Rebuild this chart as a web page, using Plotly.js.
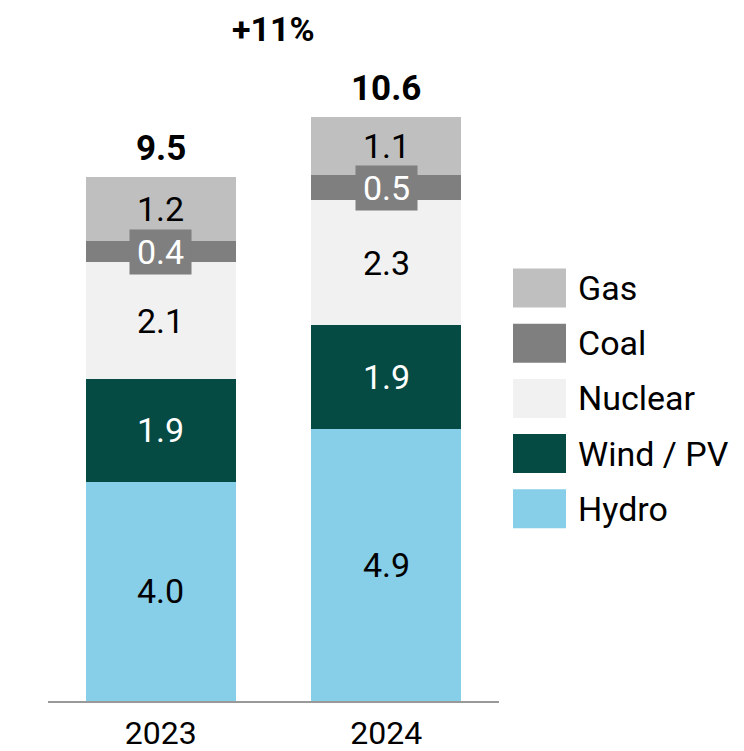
<!DOCTYPE html>
<html>
<head>
<meta charset="utf-8">
<script src="https://cdn.plot.ly/plotly-3.0.1.min.js"></script>
<style>html,body{margin:0;padding:0;background:#fff;}#chart{width:744px;height:751px;}</style>
</head>
<body>
<div id="chart"></div>
<script>
// ---- data ----
const years = ['2023', '2024'];
const seriesNames = ['Hydro', 'Wind / PV', 'Nuclear', 'Coal', 'Gas'];
const hydro   = [3.98, 4.93];
const windPV  = [1.86, 1.89];
const nuclear = [2.12, 2.27];
const coal    = [0.38, 0.45];
const gas     = [1.16, 1.06];
const hydroLabels   = ['4.0', '4.9'];
const windLabels    = ['1.9', '1.9'];
const nuclearLabels = ['2.1', '2.3'];
const coalLabels    = ['0.4', '0.5'];
const gasLabels     = ['1.2', '1.1'];
const totalLabels   = ['9.5', '10.6'];
const growthLabel   = '+11%';

// ---- styles ----
const seriesValues = [hydro, windPV, nuclear, coal, gas];
const seriesLabels = [hydroLabels, windLabels, nuclearLabels, coalLabels, gasLabels];
const colors = ['#87CEE8', '#054A43', '#F1F1F1', '#7F7F7F', '#BFBFBF'];
const textColors = ['#000', '#fff', '#000', '#fff', '#000'];
const boxed = [false, false, false, true, false];
const FONT = 'Roboto, "Noto Sans", sans-serif';

const traces = seriesNames.map((n, i) => ({
  type: 'bar', name: n, x: years, y: seriesValues[i],
  marker: {color: colors[i], line: {width: 0}},
  width: 0.665, hoverinfo: 'skip', showlegend: false
}));

const annotations = [];
const shapes = [];
years.forEach((yr, j) => {
  let base = 0;
  seriesValues.forEach((vals, i) => {
    const mid = base + vals[j] / 2;
    const a = {
      x: j, y: mid, xref: 'x', yref: 'y', text: seriesLabels[i][j], showarrow: false,
      font: {family: FONT, size: 34, color: textColors[i]}, xanchor: 'center', yanchor: 'middle'
    };
    if (boxed[i]) { a.bgcolor = colors[i]; a.borderpad = 0; a.width = 61; a.height = 44; }
    annotations.push(a);
    base += vals[j];
  });
  annotations.push({
    x: j, y: base, xref: 'x', yref: 'y', text: '<b>' + totalLabels[j] + '</b>', showarrow: false,
    font: {family: FONT, size: 35, color: '#000'}, xanchor: 'center', yanchor: 'bottom', yshift: 6
  });
});
annotations.push({
  x: 0.5, y: 12.2, xref: 'x', yref: 'y', text: '<b>' + growthLabel + '</b>', showarrow: false,
  font: {family: FONT, size: 34, color: '#000'}, xanchor: 'center', yanchor: 'middle'
});

// manual legend (top to bottom: Gas ... Hydro)
const L = 48, W = 451, B = 701, H = 689;
const px = v => (v - L) / W;
const py = v => (B - v) / H;
for (let k = 0; k < seriesNames.length; k++) {
  const i = seriesNames.length - 1 - k;
  const cy = 288 + k * 55.2;
  shapes.push({type: 'rect', xref: 'paper', yref: 'paper',
    x0: px(513), x1: px(566), y0: py(cy + 19.5), y1: py(cy - 19.5),
    fillcolor: colors[i], line: {width: 0}});
  annotations.push({xref: 'paper', yref: 'paper', x: px(576), y: py(cy), text: seriesNames[i],
    showarrow: false, xanchor: 'left', yanchor: 'middle',
    font: {family: FONT, size: 34, color: '#000'}});
}

const layout = {
  width: 744, height: 751,
  margin: {l: 48, r: 245, t: 12, b: 50},
  barmode: 'stack', bargap: 0,
  paper_bgcolor: '#fff', plot_bgcolor: '#fff',
  font: {family: FONT, size: 34, color: '#000'},
  xaxis: {type: 'category', range: [-0.5, 1.5], showgrid: false, zeroline: false,
    showline: true, linecolor: '#999', linewidth: 2, ticks: '', ticklabelstandoff: 3,
    tickfont: {family: FONT, size: 32, color: '#000'}},
  yaxis: {range: [0, 12.5], visible: false, showgrid: false, zeroline: false},
  showlegend: false,
  annotations: annotations,
  shapes: shapes
};

Plotly.newPlot('chart', traces, layout, {displayModeBar: false, staticPlot: true});
</script>
</body>
</html>
